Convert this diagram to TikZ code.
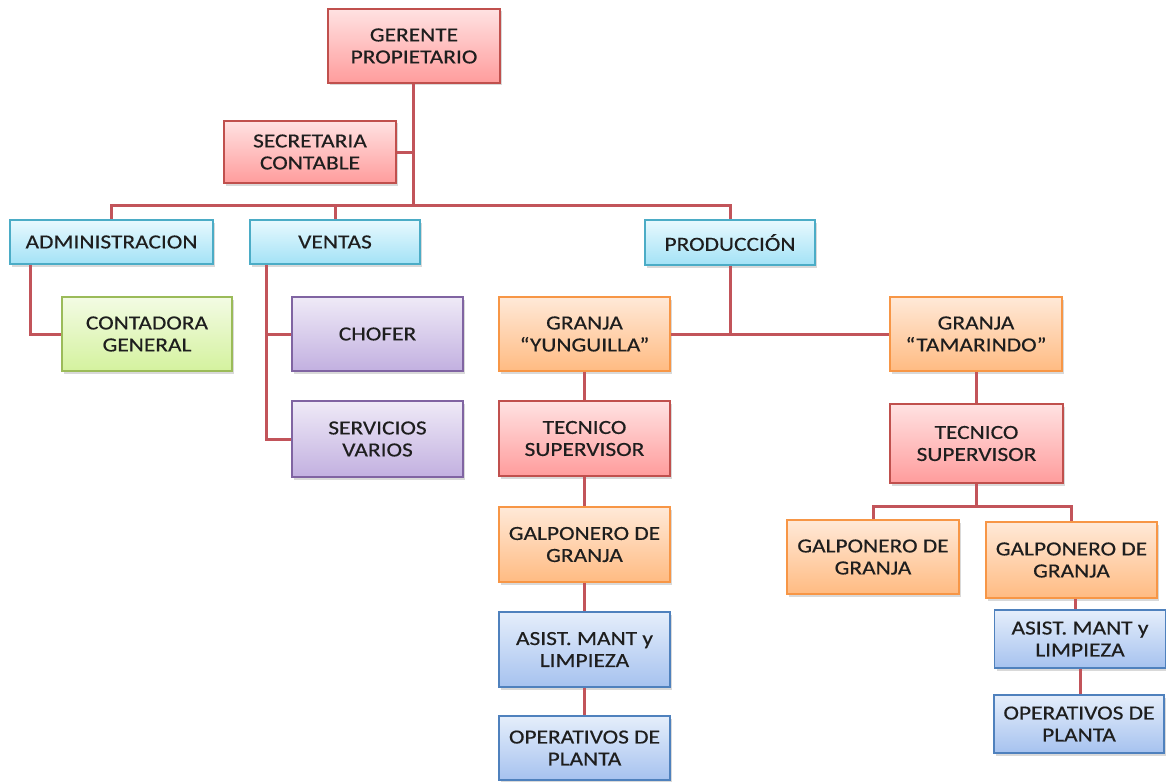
\documentclass[tikz,border=0pt]{standalone}
\usepackage{fontspec}
\setmainfont{Carlito}[FakeStretch=1.17,FakeBold=0.4]
\usetikzlibrary{shadows}
\definecolor{redT}{HTML}{FFE2E2}\definecolor{redB}{HTML}{FF9C9C}\definecolor{redD}{HTML}{C0504D}
\definecolor{cyaT}{HTML}{E8F9FE}\definecolor{cyaB}{HTML}{A3E2F6}\definecolor{cyaD}{HTML}{4BACC6}
\definecolor{grnT}{HTML}{F3FBE4}\definecolor{grnB}{HTML}{D4F29E}\definecolor{grnD}{HTML}{9BBB59}
\definecolor{purT}{HTML}{EFEAF7}\definecolor{purB}{HTML}{C2B0E0}\definecolor{purD}{HTML}{8064A2}
\definecolor{orgT}{HTML}{FFE9D8}\definecolor{orgB}{HTML}{FFBB82}\definecolor{orgD}{HTML}{F79646}
\definecolor{bluT}{HTML}{E5EEFB}\definecolor{bluB}{HTML}{A6C2EF}\definecolor{bluD}{HTML}{4F81BD}
\definecolor{lineC}{HTML}{C2545A}
\definecolor{txt}{HTML}{1E1E1E}
\tikzset{
  box/.style={rectangle, inner sep=0pt, line width=1.6pt, align=center, text=txt,
    font=\fontsize{20}{22}\selectfont,
    drop shadow={opacity=0.3, shadow xshift=2pt, shadow yshift=-2.5pt}},
  redbox/.style={box, draw=redD, top color=redT, bottom color=redB},
  cyabox/.style={box, draw=cyaD, top color=cyaT, bottom color=cyaB},
  grnbox/.style={box, draw=grnD, top color=grnT, bottom color=grnB},
  purbox/.style={box, draw=purD, top color=purT, bottom color=purB},
  orgbox/.style={box, draw=orgD, top color=orgT, bottom color=orgB},
  blubox/.style={box, draw=bluD, top color=bluT, bottom color=bluB},
  conn/.style={draw=lineC, line width=3pt}
}
\begin{document}
\begin{tikzpicture}[x=1pt,y=-1pt]
\useasboundingbox (0,0) rectangle (1166,781);
% nodes
\node[redbox, minimum width=172pt, minimum height=74pt] (gerente) at (414,46) {GERENTE\\PROPIETARIO};
\node[redbox, minimum width=172pt, minimum height=62pt] (secretaria) at (310,152) {SECRETARIA\\CONTABLE};
\node[cyabox, minimum width=203pt, minimum height=44pt] (admin) at (111.5,242) {ADMINISTRACION};
\node[cyabox, minimum width=170pt, minimum height=44pt] (ventas) at (335,242) {VENTAS};
\node[cyabox, minimum width=170pt, minimum height=45pt] (produccion) at (730,242.5) {PRODUCCIÓN};
\node[grnbox, minimum width=170pt, minimum height=74pt] (contadora) at (147,334) {CONTADORA\\GENERAL};
\node[purbox, minimum width=171pt, minimum height=74pt] (chofer) at (377.5,334) {CHOFER};
\node[purbox, minimum width=171pt, minimum height=76pt] (servicios) at (377.5,439) {SERVICIOS\\VARIOS};
\node[orgbox, minimum width=171pt, minimum height=74pt] (yunguilla) at (584.5,334) {GRANJA\\“YUNGUILLA”};
\node[redbox, minimum width=171pt, minimum height=75pt] (tecL) at (584.5,438.5) {TECNICO\\SUPERVISOR};
\node[orgbox, minimum width=171pt, minimum height=75pt] (galpL) at (584.5,544.5) {GALPONERO DE\\GRANJA};
\node[blubox, minimum width=171pt, minimum height=75pt] (asistL) at (584.5,649.5) {ASIST. MANT y\\LIMPIEZA};
\node[blubox, minimum width=171pt, minimum height=64pt] (operL) at (584.5,748) {OPERATIVOS DE\\PLANTA};
\node[orgbox, minimum width=172pt, minimum height=74pt] (tamarindo) at (976,334) {GRANJA\\“TAMARINDO”};
\node[redbox, minimum width=173pt, minimum height=79pt] (tecR) at (976.5,443.5) {TECNICO\\SUPERVISOR};
\node[orgbox, minimum width=172pt, minimum height=74pt] (galpR1) at (873,557) {GALPONERO DE\\GRANJA};
\node[orgbox, minimum width=171pt, minimum height=76pt] (galpR2) at (1071.5,560) {GALPONERO DE\\GRANJA};
\node[blubox, minimum width=171pt, minimum height=58pt] (asistR) at (1080,639) {ASIST. MANT y\\LIMPIEZA};
\node[blubox, minimum width=170pt, minimum height=58pt] (operR) at (1079,724) {OPERATIVOS DE\\PLANTA};
% coordinates
\coordinate (bus) at (413,205);
\coordinate (rs) at (976.5,506);
% connectors
\draw[conn] ([xshift=-1pt]gerente.south) -- ([xshift=-1pt]gerente.south |- bus);
\draw[conn] (secretaria.east) -- (secretaria.east -| bus);
\draw[conn] (admin.north) |- (bus) -| (produccion.north);
\draw[conn] (ventas.north) -- (ventas.north |- bus);
\draw[conn] ([xshift=21pt]admin.south west) |- (contadora.west);
\draw[conn] ([xshift=17pt]ventas.south west) |- (servicios.west);
\draw[conn] ([xshift=17pt]ventas.south west |- chofer.west) -- (chofer.west);
\draw[conn] (produccion.south) -- (produccion.south |- yunguilla.east);
\draw[conn] (yunguilla.east) -- (tamarindo.west);
\draw[conn] (yunguilla.south) -- (tecL.north);
\draw[conn] (tecL.south) -- (galpL.north);
\draw[conn] (galpL.south) -- (asistL.north);
\draw[conn] (asistL.south) -- (operL.north);
\draw[conn] (tamarindo.south) -- (tamarindo.south |- tecR.north);
\draw[conn] (tecR.south) -- (rs);
\draw[conn] (galpR1.north) |- (rs) -| (galpR2.north);
\draw[conn] ([xshift=4pt]galpR2.south) -- ([xshift=4pt]galpR2.south |- asistR.north);
\draw[conn] (asistR.south) -- (asistR.south |- operR.north);
\end{tikzpicture}
\end{document}
